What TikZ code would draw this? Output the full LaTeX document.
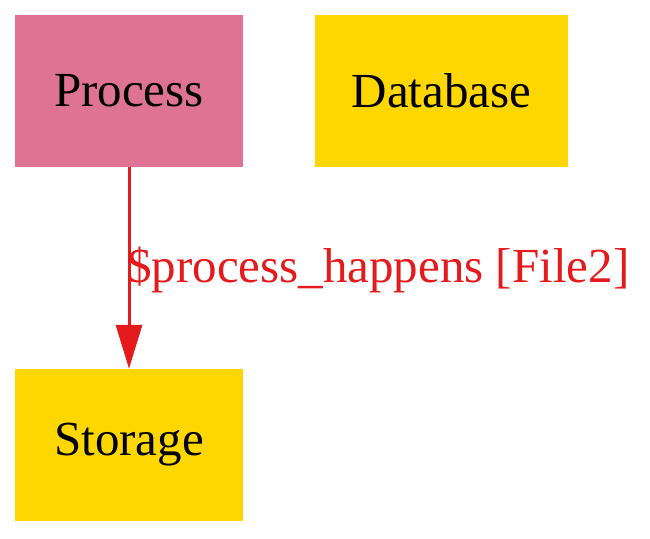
\documentclass[tikz,border=0pt]{standalone}
\usepackage{fontspec}
\setmainfont{Liberation Serif}
\usetikzlibrary{arrows.meta}
\definecolor{pinkfill}{HTML}{DE7396}
\definecolor{goldfill}{HTML}{FFD700}
\definecolor{edgered}{HTML}{E41A1C}
\begin{document}
\begin{tikzpicture}[x=1pt,y=-1pt,
  box/.style={draw=none,minimum width=#1,minimum height=152pt,inner sep=0pt,font=\fontsize{49}{58}\selectfont},
  flow/.style={draw=edgered,line width=3pt,-{Triangle[length=44pt,width=26pt]}},
  flowlabel/.style={text=edgered,font=\fontsize{49}{58}\selectfont,inner sep=0pt,anchor=west}]
\useasboundingbox (0,0) rectangle (650,538);
\node[box=228pt,fill=pinkfill] (process) at (129,91) {Process};
\node[box=253pt,fill=goldfill] (database) at (441.5,91) {Database};
\node[box=228pt,fill=goldfill] (storage) at (129,445) {Storage};
\draw[flow] (process.south) -- (storage.north);
\node[flowlabel] (lbl) at (127,270) {\$process\_happens [File2]};
\end{tikzpicture}
\end{document}
